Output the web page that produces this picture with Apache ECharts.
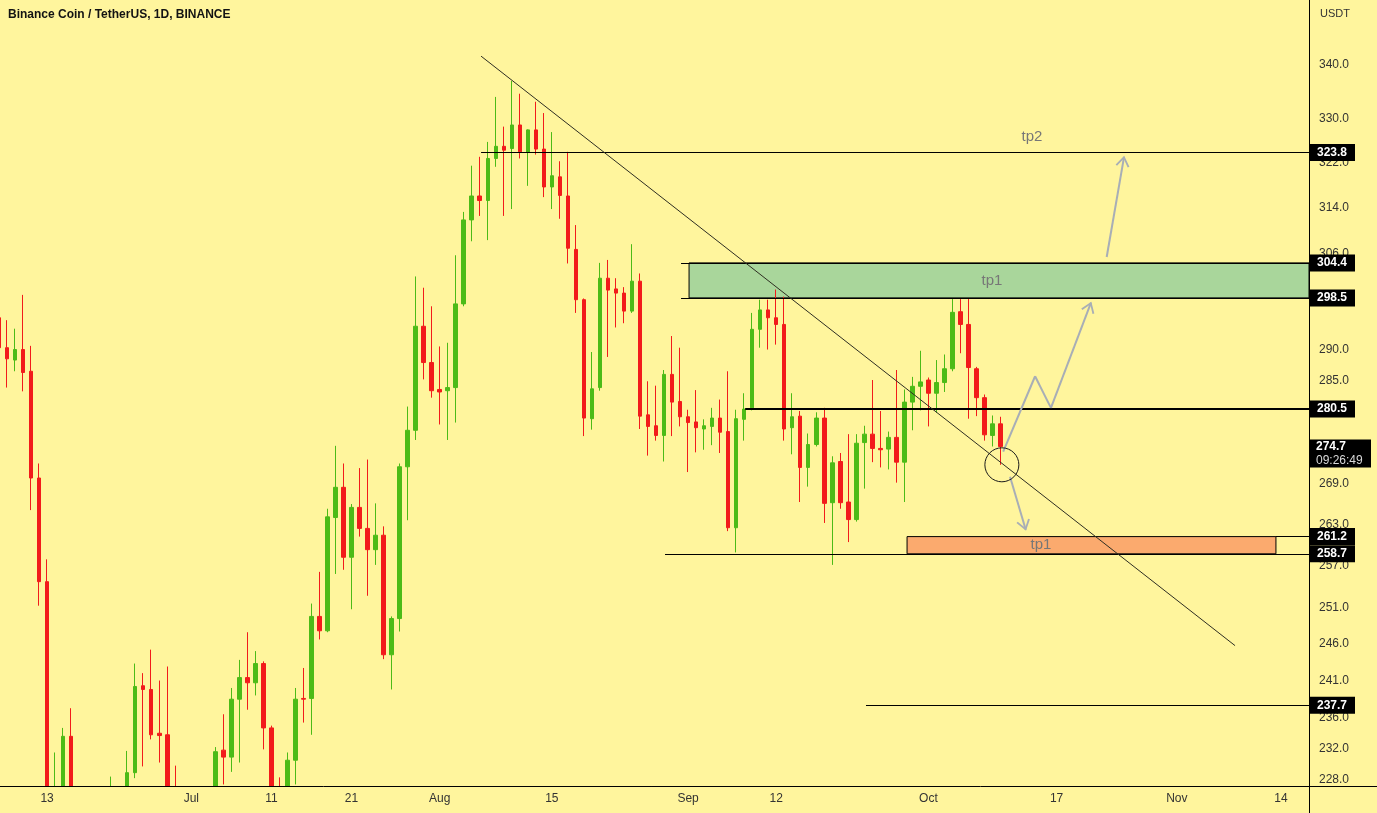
<!DOCTYPE html>
<html><head><meta charset="utf-8">
<script src="https://cdn.jsdelivr.net/npm/echarts@6/dist/echarts.min.js"></script>
<style>html,body{margin:0;padding:0;background:#FFF59D;overflow:hidden}#chart{position:absolute;left:-5px;top:0;width:1382px;height:813px}</style>
</head><body><div id="chart"></div>
<script>
// ---------- data ----------
const firstDate = '2022-06-07';
const lastAxisDate = '2022-11-17';
const open = [
295.2,290.3,288.3,290.0,286.5,269.9,254.7,215.0,222.0,233.6,
216,220,198,216,218,223,214,228.9,240.3,239.8,
234.0,233.8,224.0,219.0,213.0,218.0,220.0,224.0,231.8,230.9,
238.5,241.4,240.7,243.3,234.7,225.5,224.0,230.5,238.6,238.6,
249.8,247.8,264.0,268.5,258.2,265.5,262.4,259.3,261.4,244.5,
249.5,271.6,277.2,293.8,287.9,283.6,283.4,283.9,297.5,311.8,
316.0,315.2,322.7,324.9,324.5,328.8,323.8,327.9,324.4,317.6,
319.4,316.0,306.7,298.2,279.0,283.9,301.8,300.0,299.3,296.3,
301.3,279.6,277.9,276.4,286.0,281.7,279.3,278.5,277.4,277.8,
279.1,277.0,262.5,278.9,280.7,293.3,296.5,295.2,294.1,277.6,
279.4,271.5,275.0,279.1,266.2,272.4,266.3,263.7,275.3,276.6,
274.4,274.3,276.1,272.3,281.6,284.1,285.1,283.0,284.7,286.9,
296.2,294.1,286.9,282.3,276.4,278.2];
const high = [
297.5,294.8,293.4,299.0,290.6,272.1,257.9,231.5,234.7,237.3,
224,222,220,224,228.4,226,231.7,243.3,242.0,245.2,
241.0,242.9,229.8,222.0,224.0,222.0,226.0,232.2,236.5,240.0,
243.8,247.6,245.0,243.6,235.0,228.3,231.5,240.0,242.7,251.6,
256.1,265.3,274.8,272.1,266.0,271.4,272.7,266.1,262.7,249.8,
272.1,280.9,302.1,300.2,297.1,290.5,291.1,305.7,313.2,321.4,
323.0,325.7,334.0,328.5,337.0,334.6,328.0,333.1,331.0,327.5,
322.2,323.9,310.9,298.4,289.6,304.4,304.9,301.8,300.3,307.6,
302.6,284.9,284.2,286.7,292.2,290.3,280.4,283.5,278.9,280.7,
282.0,286.5,280.4,283.0,296.0,298.2,298.2,299.9,298.7,283.0,
280.2,276.7,280.0,280.7,273.2,273.7,276.6,276.6,277.9,285.1,
280.2,277.0,286.7,283.6,285.6,289.8,285.5,288.3,289.2,298.3,
298.3,298.3,287.2,282.8,279.5,279.3];
const low = [
284.0,283.9,286.5,283.3,265.1,251.3,205.0,201.0,210.0,212.0,
213,183,192,207,215,210,212,228.2,229.7,233.2,
230.2,221.0,212.0,205.0,210.0,215.0,217.0,221.0,227.4,229.0,
230.2,237.1,239.0,231.9,224.0,221.0,222.0,227.4,235.4,233.8,
246.6,247.6,255.8,256.4,250.8,261.2,252.7,257.1,243.9,239.8,
247.7,263.6,275.7,285.2,282.3,278.1,275.7,278.4,297.1,308.1,
312.5,308.3,321.2,312.5,313.7,322.7,317.8,323.4,315.8,313.7,
312.0,304.3,296.0,276.3,277.3,283.4,288.8,293.6,294.3,296.0,
277.4,273.3,275.6,272.4,276.3,277.8,270.8,273.8,274.2,274.9,
273.7,262.0,258.9,275.6,280.3,290.3,290.0,290.8,275.6,273.5,
266.3,268.6,274.7,263.2,257.1,265.3,260.4,263.4,268.3,272.3,
271.5,271.2,269.2,266.3,277.2,280.3,277.8,279.9,283.2,286.5,
289.4,279.0,279.4,275.6,274.7,271.9];
const close = [
290.3,288.5,290.0,286.3,269.9,254.7,215.0,222.0,233.6,216.0,
220,198,216,218,223,214,228.9,240.2,239.8,233.8,
233.7,224.0,219.0,213.0,218.0,220.0,224.0,231.6,230.9,238.5,
241.4,240.7,243.3,234.7,225.5,224.0,230.5,238.5,238.5,249.8,
247.8,264.1,268.5,258.2,265.5,262.4,259.3,261.4,244.5,249.5,
271.6,277.2,293.8,287.9,283.4,283.2,283.9,297.5,311.8,316.0,
315.2,322.7,324.9,324.2,328.8,323.9,327.9,324.4,317.6,319.6,
316.1,306.9,298.2,279.1,283.7,301.8,299.8,299.3,296.3,301.3,
279.4,277.8,276.4,286.0,281.6,279.3,278.4,277.6,277.9,279.1,
276.9,262.5,279.0,280.5,293.3,296.5,295.2,294.1,277.4,279.3,
271.5,275.0,279.1,266.1,272.2,266.2,263.7,275.2,276.6,274.4,
274.2,276.1,272.3,281.6,284.1,284.8,283.0,284.7,286.9,296.1,
294.1,287.1,282.3,276.5,278.2,274.7];

const xLabels = {'2022-06-13':'13','2022-07-01':'Jul','2022-07-11':'11','2022-07-21':'21','2022-08-01':'Aug',
  '2022-08-15':'15','2022-09-01':'Sep','2022-09-12':'12','2022-10-01':'Oct','2022-10-17':'17','2022-11-01':'Nov','2022-11-14':'14'};
const yTicks = [340,330,322,314,306,290,285,269,263,257,251,246,241,236,232,228];
const yMin = 227.2, yMax = 352.6;

const levelValues = [323.8, 304.4, 298.5, 280.5, 261.2, 258.7, 237.7];
const levelStarts = ['2022-08-06T04:00','2022-08-31T03:00','2022-08-31T03:00','2022-09-08T03:00','2022-11-13T09:00','2022-08-29T03:00','2022-09-23T05:00'];
const levelWidths = [1,1,1,2,1,1,1];
const lastPrice = 274.7;
const countdown = '09:26:49';
const greenZone = {top:304.4, bottom:298.5, start:'2022-09-01T03:00'};
const orangeZone = {top:261.2, bottom:258.7, start:'2022-09-28T08:00', end:'2022-11-13T09:00'};
const trendLine = [['2022-08-06T04:00',341.7],['2022-11-08T06:30',245.75]];
const pathUp = [['2022-10-10T08:00',273.9],['2022-10-14T07:30',285.7],['2022-10-16T07:00',280.7],['2022-10-21T07:00',297.7]];
const pathUp2 = [['2022-10-23T06:00',305.4],['2022-10-25T10:00',323.0]];
const pathDown = [['2022-10-11T04:30',270.1],['2022-10-13T03:30',262.2]];
const circleAt = ['2022-10-10T04:00',271.9];
const notes = [{text:'tp2', at:['2022-10-13T22:00',326.6]},{text:'tp1', at:['2022-10-08T22:30',301.4]},{text:'tp1', at:['2022-10-15T01:00',259.95]}];

// ---------- build ----------
const BG = '#FFF59D';
const SHIFT = 5;            // chart canvas starts 5px left of the page
const DAY = 864e5;
const T = s => Date.parse(s.length === 10 ? s + 'T00:00:00Z' : s + ':00Z');
const axisDates = [];
for (let t = T(firstDate); t <= T(lastAxisDate); t += DAY) axisDates.push(new Date(t).toISOString().slice(0,10));
const xMinT = T(firstDate) - DAY/2, xMaxT = T(lastAxisDate) + DAY/2;
const candles = open.map((o,i) => [o, close[i], low[i], high[i]]);

const ARROW = 'path://M7,0L7.01,0Z M0,19L7,9L14,19L12.4,20L7,12L1.6,20Z';
const arrowGray = '#A8AEB6';
const seg = (a, b, withArrow) => [
  {coord:[T(a[0]), a[1]], symbol:'none', lineStyle:{color:arrowGray, width:2, type:'solid'}},
  {coord:[T(b[0]), b[1]], symbol: withArrow ? ARROW : 'none', symbolSize:[14,20]}
];

const markLines = levelValues.map((v,i) => [
  {coord:[T(levelStarts[i]), v], lineStyle:{color:'#000', width:levelWidths[i], type:'solid'}},
  {coord:[xMaxT, v]}
]);
markLines.push([{coord:[T(trendLine[0][0]), trendLine[0][1]], lineStyle:{color:'#2e2e22', width:1, type:'solid'}},
                {coord:[T(trendLine[1][0]), trendLine[1][1]]}]);
for (let i = 0; i < pathUp.length - 1; i++) markLines.push(seg(pathUp[i], pathUp[i+1], i === pathUp.length - 2));
markLines.push(seg(pathUp2[0], pathUp2[1], true));
markLines.push(seg(pathDown[0], pathDown[1], true));

const markPoints = [];
markPoints.push({coord:[T(circleAt[0]), circleAt[1]], symbol:'circle', symbolSize:34,
  itemStyle:{color:'rgba(0,0,0,0)', borderColor:'#1a1a1a', borderWidth:1}, label:{show:false}});
notes.forEach(n => markPoints.push({coord:[T(n.at[0]), n.at[1]], symbol:'circle', symbolSize:0,
  label:{show:true, position:'inside', formatter:n.text, color:'#777', fontSize:15, fontFamily:'Liberation Sans'}}));
levelValues.forEach(v => markPoints.push({coord:[xMaxT, v], symbol:'rect', symbolSize:[46,17], symbolOffset:[23,0],
  itemStyle:{color:'#000'}, label:{show:true, position:'inside', formatter:v.toFixed(1), color:'#fff', fontSize:12, fontWeight:'bold', fontFamily:'Liberation Sans'}}));
markPoints.push({coord:[xMaxT, lastPrice], symbol:'rect', symbolSize:[62,28], symbolOffset:[31,7], itemStyle:{color:'#000'},
  label:{show:true, position:'inside', formatter:'{a|' + lastPrice.toFixed(1) + '}\n{b|' + countdown + '}',
    rich:{a:{color:'#fff', fontSize:12, fontWeight:'bold', width:48, align:'left', lineHeight:14, fontFamily:'Liberation Sans'},
          b:{color:'#d8d8d8', fontSize:12, width:48, align:'left', lineHeight:14, fontFamily:'Liberation Sans'}}}});

const chart = echarts.init(document.getElementById('chart'), null, {renderer:'canvas'});
const gridRight = 1309 + SHIFT;   // right edge of the plot in chart coordinates
chart.setOption({
  animation:false,
  backgroundColor:BG,
  textStyle:{fontFamily:'Liberation Sans'},
  title:{text:'Binance Coin / TetherUS, 1D, BINANCE', left:8 + SHIFT, top:9, padding:0,
    textStyle:{fontSize:12, fontWeight:'bold', color:'#131313', fontFamily:'Liberation Sans'}},
  grid:{left:0, right:68, top:0, bottom:27, containLabel:false},
  xAxis:[
    {type:'category', data:axisDates, boundaryGap:true, zlevel:1, z:5,
     axisLine:{show:true, lineStyle:{color:'#000', width:1}}, axisTick:{show:false}, splitLine:{show:false},
     axisLabel:{interval:(i,v) => xLabels[v] !== undefined, formatter:v => xLabels[v] || '', color:'#333', fontSize:12, margin:7,
       fontFamily:'Liberation Sans'}},
    {type:'time', min:xMinT, max:xMaxT, show:false}
  ],
  yAxis:{type:'log', logBase:10, min:yMin, max:yMax, position:'right',
    axisLine:{show:true, lineStyle:{color:'#000', width:1}}, axisTick:{show:false}, splitLine:{show:false}, minorTick:{show:false},
    axisLabel:{customValues:yTicks, formatter:v => Number(v).toFixed(1), color:'#333', fontSize:12, margin:10, fontFamily:'Liberation Sans'}},
  graphic:[
    {type:'rect', zlevel:1, z:0, shape:{x:0, y:787, width:gridRight, height:26}, style:{fill:BG}, silent:true},
    {type:'line', zlevel:1, z:1, shape:{x1:gridRight, y1:786.5, x2:1382, y2:786.5}, style:{stroke:'#000', lineWidth:1}, silent:true},
    {type:'line', zlevel:1, z:1, shape:{x1:gridRight + 0.5, y1:786, x2:gridRight + 0.5, y2:813}, style:{stroke:'#000', lineWidth:1}, silent:true},
    {type:'text', left:1320 + SHIFT, top:8, style:{text:'USDT', fill:'#333', font:'11px "Liberation Sans"'}, silent:true}
  ],
  series:[
    {type:'candlestick', name:'BNBUSDT', xAxisIndex:0, yAxisIndex:0, data:candles, barWidth:4, clip:true,
     itemStyle:{color:'#4CBB17', color0:'#F21B1B', borderColor:'#4CBB17', borderColor0:'#F21B1B', borderWidth:1}},
    {type:'line', name:'drawings', xAxisIndex:1, yAxisIndex:0, data:[], silent:true,
     markArea:{silent:true, data:[
       [{coord:[T(greenZone.start), greenZone.top], itemStyle:{color:'#A9D69B', borderColor:'#000', borderWidth:1}}, {coord:[xMaxT, greenZone.bottom]}],
       [{coord:[T(orangeZone.start), orangeZone.top], itemStyle:{color:'#FBAA6E', borderColor:'#000', borderWidth:1}}, {coord:[T(orangeZone.end), orangeZone.bottom]}]
     ]},
     markLine:{silent:true, symbol:['none','none'], label:{show:false}, data:markLines},
     markPoint:{silent:true, data:markPoints}
    }
  ]
});
</script></body></html>
